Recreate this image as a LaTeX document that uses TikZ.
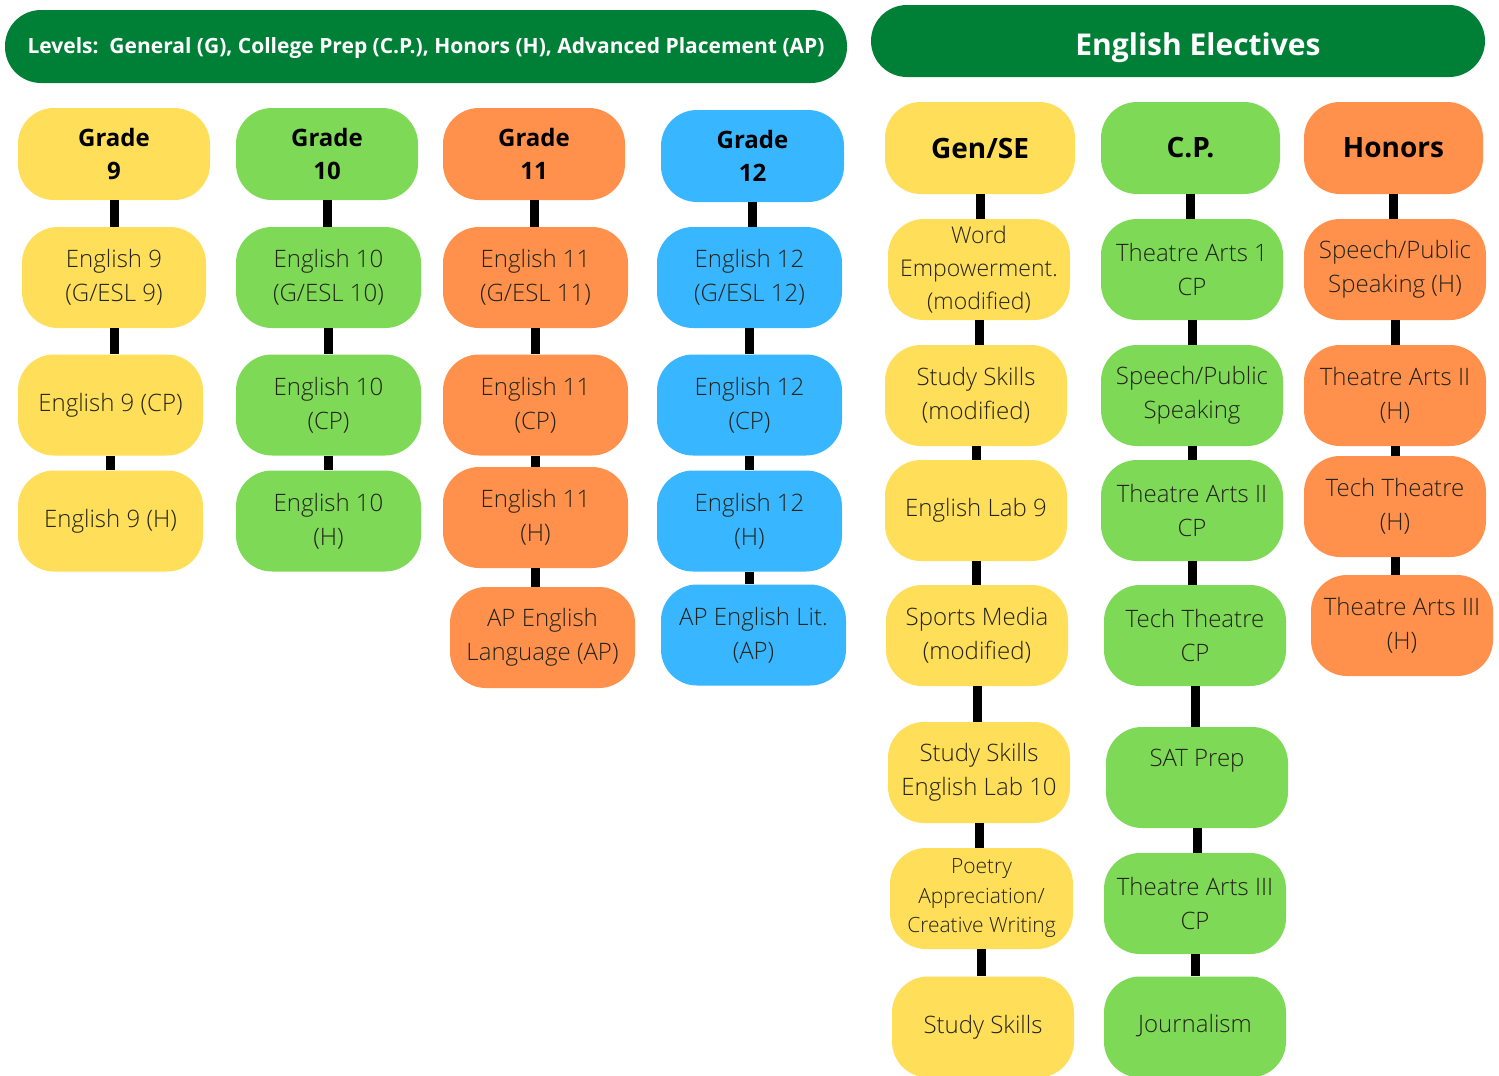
\documentclass[tikz,border=0pt]{standalone}
\usepackage{fontspec}
\setmainfont{Open Sans}[UprightFont={* Light}, BoldFont={* Bold}]
\usetikzlibrary{calc}

\definecolor{bannergreen}{HTML}{008037}
\definecolor{yel}{HTML}{FFDE59}
\definecolor{grn}{HTML}{7ED957}
\definecolor{org}{HTML}{FF914D}
\definecolor{blu}{HTML}{38B6FF}
\definecolor{txt}{RGB}{35,35,25}

\tikzset{
  pill/.style={rounded corners=36pt, inner sep=0pt, align=center, text=txt,
    minimum width=184pt, minimum height=101pt,
    font=\fontsize{24}{34}\selectfont},
  head/.style={pill, minimum height=92pt, text=black,
    font=\fontsize{24}{33}\selectfont\bfseries},
  banner/.style={rounded corners=36pt, fill=bannergreen, text=white,
    inner sep=0pt, font=\bfseries},
  bar/.style={line width=9pt, black}
}

\begin{document}
\begin{tikzpicture}[x=1pt,y=-1pt]
    \useasboundingbox [fill=white] (0,0) rectangle (1499,1076);
    % banners
    \node [banner, minimum width=842pt, minimum height=73pt,
      font=\fontsize{21}{24}\selectfont\bfseries] (levels) at (426,46.5)
      {\raisebox{-7pt}[0pt][0pt]{Levels:\ \ General (G), College Prep (C.P.), Honors (H), Advanced Placement (AP)}};
    \node [banner, minimum width=614pt, minimum height=72pt,
      font=\fontsize{30}{34}\selectfont\bfseries] (electives) at (1178,41)
      {\raisebox{-14.5pt}[0pt][0pt]{\hspace*{40pt}English Electives}};
    % grade 9
    \node [head, fill=yel, minimum width=192pt] (g9) at (114,154) {Grade\\9};
    \node [pill, fill=yel] (e9g) at (114,277.5) {English 9\\(G/ESL 9)};
    \node [pill, fill=yel, minimum width=185pt] (e9cp) at (110.5,405) {English 9 (CP)};
    \node [pill, fill=yel, minimum width=185pt] (e9h) at (110.5,521) {English 9 (H)};
    % grade 10
    \node [head, fill=grn, minimum width=182pt] (g10) at (327,154) {Grade\\10};
    \node [pill, fill=grn, minimum width=185pt] (e10g) at (328.5,277.5) {English 10\\(G/ESL 10)};
    \node [pill, fill=grn, minimum width=185pt] (e10cp) at (328.5,405) {English 10\\(CP)};
    \node [pill, fill=grn, minimum width=185pt] (e10h) at (328.5,521) {English 10\\(H)};
    % grade 11
    \node [head, fill=org, minimum width=182pt] (g11) at (534,154) {Grade\\11};
    \node [pill, fill=org, minimum width=185pt] (e11g) at (535.5,277.5) {English 11\\(G/ESL 11)};
    \node [pill, fill=org, minimum width=185pt] (e11cp) at (535.5,405) {English 11\\(CP)};
    \node [pill, fill=org, minimum width=185pt] (e11h) at (535.5,517.5) {English 11\\(H)};
    \node [pill, fill=org, minimum width=185pt] (apl) at (542.5,637.5) {AP English\\Language (AP)};
    % grade 12
    \node [head, fill=blu, minimum width=183pt] (g12) at (752.5,156) {Grade\\12};
    \node [pill, fill=blu, minimum width=185pt] (e12g) at (749.5,277.5) {English 12\\(G/ESL 12)};
    \node [pill, fill=blu, minimum width=185pt] (e12cp) at (749.5,405) {English 12\\(CP)};
    \node [pill, fill=blu, minimum width=185pt] (e12h) at (749.5,521) {English 12\\(H)};
    \node [pill, fill=blu, minimum width=185pt] (aplit) at (753.5,635) {AP English Lit.\\(AP)};
    % electives: gen/se
    \node [head, fill=yel, minimum width=190pt, font=\fontsize{28}{33}\selectfont\bfseries] (gen) at (980,148) {Gen/SE};
    \node [pill, fill=yel, minimum width=182pt, font=\fontsize{23}{33}\selectfont] (word) at (979,269.5) {Word\\Empowerment.\\(modified)};
    \node [pill, fill=yel, minimum width=182pt] (ssmod) at (976,395.5) {Study Skills\\(modified)};
    \node [pill, fill=yel, minimum width=182pt] (lab9) at (976,510.5) {English Lab 9};
    \node [pill, fill=yel, minimum width=182pt] (sports) at (977,635.5) {Sports Media\\(modified)};
    \node [pill, fill=yel, minimum width=182pt] (lab10) at (979,772.5) {Study Skills\\English Lab 10};
    \node [pill, fill=yel, minimum width=183pt, font=\fontsize{21}{29.5}\selectfont] (poetry) at (981.5,898.5) {Poetry\\Appreciation/\\Creative Writing};
    \node [pill, fill=yel, minimum width=182pt, text depth=6pt] (study) at (983,1027) {Study Skills};
    % electives: c.p.
    \node [head, fill=grn, minimum width=179pt, font=\fontsize{28}{33}\selectfont\bfseries] (cp) at (1190.5,148) {C.P.};
    \node [pill, fill=grn, minimum width=182pt] (ta1) at (1192,269.5) {Theatre Arts 1\\CP};
    \node [pill, fill=grn, minimum width=182pt] (speech) at (1192,395.5) {Speech/Public\\Speaking};
    \node [pill, fill=grn, minimum width=182pt] (ta2) at (1192,510.5) {Theatre Arts II\\CP};
    \node [pill, fill=grn, minimum width=182pt] (tech) at (1195,635.5) {Tech Theatre\\CP};
    \node [pill, fill=grn, minimum width=182pt, text depth=40pt] (sat) at (1197,777.5) {SAT Prep};
    \node [pill, fill=grn, minimum width=182pt] (ta3) at (1195,903.5) {Theatre Arts III\\CP};
    \node [pill, fill=grn, minimum width=182pt, text depth=8pt] (journ) at (1195,1027) {Journalism};
    % electives: honors
    \node [head, fill=org, minimum width=179pt, font=\fontsize{28}{33}\selectfont\bfseries] (hon) at (1393.5,148) {Honors};
    \node [pill, fill=org, minimum width=182pt] (speechh) at (1395,269.5) {Speech/Public\\Speaking (H)};
    \node [pill, fill=org, minimum width=182pt] (ta2h) at (1395,395.5) {Theatre Arts II\\(H)};
    \node [pill, fill=org, minimum width=182pt] (techh) at (1395,506.5) {Tech Theatre\\(H)};
    \node [pill, fill=org, minimum width=182pt] (ta3h) at (1402,625.5) {Theatre Arts III\\(H)};
    % connectors
    \foreach \a/\b in {g9/e9g, e9g/e9cp, e9cp/e9h,
        g10/e10g, e10g/e10cp, e10cp/e10h,
        g11/e11g, e11g/e11cp, e11cp/e11h, e11h/apl,
        g12/e12g, e12g/e12cp, e12cp/e12h, e12h/aplit,
        gen/word, word/ssmod, ssmod/lab9, lab9/sports, sports/lab10, lab10/poetry, poetry/study,
        cp/ta1, ta1/speech, speech/ta2, ta2/tech, tech/sat, sat/ta3, ta3/journ,
        hon/speechh, speechh/ta2h, ta2h/techh, techh/ta3h}
    \draw [bar] (\a.south) -- (\a.south |- \b.north);
\end{tikzpicture}
\end{document}
